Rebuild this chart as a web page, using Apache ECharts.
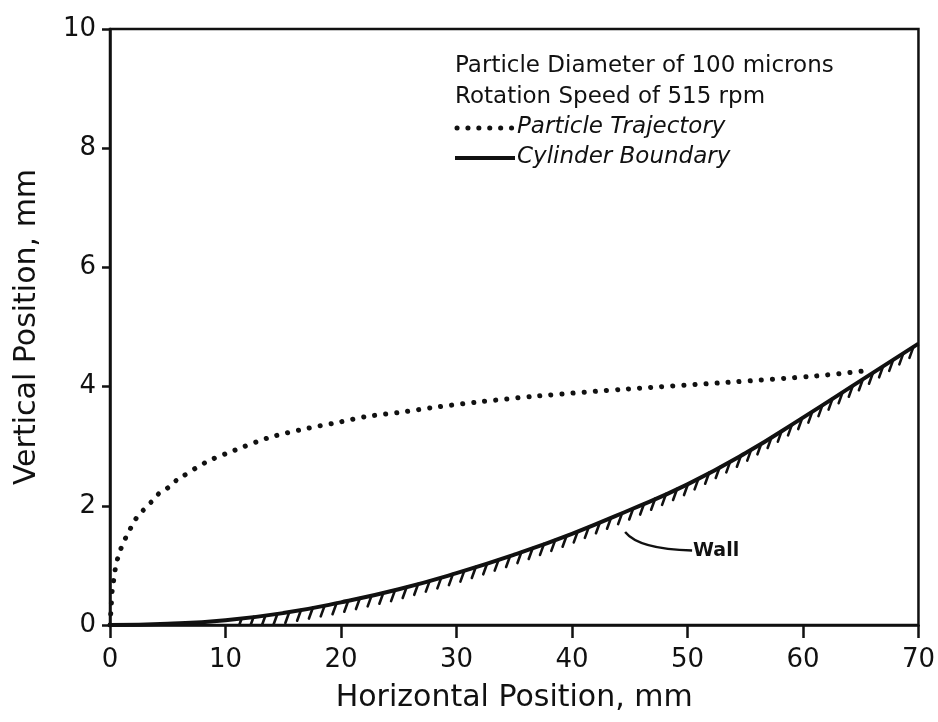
<!DOCTYPE html>
<html>
<head>
<meta charset="utf-8">
<script src="https://cdn.jsdelivr.net/npm/echarts@6/dist/echarts.min.js"></script>
<style>
  html, body { margin: 0; padding: 0; background: #fff; }
  #chart { width: 938px; height: 722px; }
</style>
</head>
<body>
<div id="chart"></div>
<script>
// axis ticks
const xTicks = [0, 10, 20, 30, 40, 50, 60, 70];
const yTicks = [0, 2, 4, 6, 8, 10];

// particle trajectory (mm, mm)
const trajX = [0, 0.1, 0.2, 0.4, 0.5, 0.7, 1.0, 1.4, 1.8, 2.3, 2.9, 3.6, 4.2, 5.0, 5.7, 6.0, 8.4, 10.9, 13.7, 16.6, 19.5, 22.3, 25.2, 28.0, 31.8, 36.9, 44.8, 53.4, 61.2, 65.2];
const trajY = [0, 0.3, 0.6, 0.85, 1.0, 1.14, 1.31, 1.48, 1.63, 1.8, 1.93, 2.07, 2.2, 2.3, 2.42, 2.46, 2.74, 2.94, 3.14, 3.28, 3.39, 3.5, 3.57, 3.65, 3.74, 3.84, 3.96, 4.07, 4.18, 4.26];

// cylinder boundary (wall)
const wallX = [0, 5, 10, 15, 20, 25, 30, 35, 40, 45, 50, 55, 60, 65, 70];
const wallY = [0, 0.02, 0.08, 0.2, 0.38, 0.6, 0.87, 1.18, 1.53, 1.93, 2.36, 2.88, 3.48, 4.1, 4.72];

// "Wall" leader: start, bend, end
const leaderX = [44.6, 45.8, 50.4];
const leaderY = [1.56, 1.27, 1.25];

const headerLines = ['Particle Diameter of 100 microns', 'Rotation Speed of 515 rpm'];
const seriesNames = ['Particle Trajectory', 'Cylinder Boundary'];

const FONT = 'DejaVu Sans';
const INK = '#111';

const traj = trajX.map((x, i) => [x, trajY[i]]);
const wall = wallX.map((x, i) => [x, wallY[i]]);

const chart = echarts.init(document.getElementById('chart'));

// hatch marks hanging under the wall line
function renderHatch(params, api) {
  if (params.dataIndex !== 0) return;
  const pts = wall.map(p => api.coord(p));
  const yAxisPx = api.coord([0, 0])[1];
  const startPx = api.coord([11, 0])[0];
  const step = 12;
  const children = [];
  let carry = 0;
  for (let i = 0; i < pts.length - 1; i++) {
    const a = pts[i], b = pts[i + 1];
    const len = Math.hypot(b[0] - a[0], b[1] - a[1]);
    let s = carry;
    while (s < len) {
      const t = s / len;
      const px = a[0] + (b[0] - a[0]) * t;
      const py = a[1] + (b[1] - a[1]) * t;
      if (px >= startPx) {
        let x2 = px - 4, y2 = py + 11;
        if (y2 > yAxisPx) {
          const k = (yAxisPx - py) / 11;
          x2 = px - 4 * k; y2 = yAxisPx;
        }
        children.push({
          type: 'line',
          shape: { x1: px, y1: py, x2: x2, y2: y2 },
          style: { stroke: INK, lineWidth: 2.6, lineCap: 'round' }
        });
      }
      s += step;
    }
    carry = s - len;
  }
  return { type: 'group', children: children };
}

function renderLeader(params, api) {
  if (params.dataIndex !== 0) return;
  const p = leaderX.map((x, i) => api.coord([x, leaderY[i]]));
  return {
    type: 'group',
    children: [
      {
        type: 'bezierCurve',
        shape: { x1: p[0][0], y1: p[0][1], cpx1: p[1][0], cpy1: p[1][1], x2: p[2][0], y2: p[2][1] },
        style: { stroke: INK, lineWidth: 2.4, fill: null }
      },
      {
        type: 'text',
        x: p[2][0] + 1, y: p[2][1] + 1,
        style: { text: 'Wall', font: 'bold 19px "' + FONT + '"', fill: INK, textVerticalAlign: 'middle' }
      }
    ]
  };
}

const legendLeft = 455;
const legendFont = '23px "' + FONT + '"';
const option = {
  backgroundColor: '#fff',
  animation: false,
  grid: {
    left: 110, right: 17, top: 29, bottom: 97,
    show: true, borderColor: INK, borderWidth: 2.5
  },
  xAxis: {
    type: 'value', min: 0, max: 70, interval: 10,
    name: 'Horizontal Position, mm', nameLocation: 'middle', nameGap: 58,
    nameTextStyle: { fontFamily: FONT, fontSize: 30, color: INK },
    axisLine: { lineStyle: { color: INK, width: 2.5 } },
    axisTick: { show: true, length: 13, inside: false, lineStyle: { color: INK, width: 2.5 } },
    axisLabel: { fontFamily: FONT, fontSize: 26, color: INK, margin: 22 },
    splitLine: { show: false }
  },
  yAxis: {
    type: 'value', min: 0, max: 10, interval: 2,
    name: 'Vertical Position, mm', nameLocation: 'middle', nameGap: 68,
    nameTextStyle: { fontFamily: FONT, fontSize: 30, color: INK },
    axisLine: { lineStyle: { color: INK, width: 2.5 } },
    axisTick: { show: true, length: 8, inside: false, lineStyle: { color: INK, width: 2.5 } },
    axisLabel: { fontFamily: FONT, fontSize: 26, color: INK, margin: 14 },
    splitLine: { show: false }
  },
  graphic: [
    { type: 'text', left: legendLeft, top: 55, style: { text: headerLines[0], font: legendFont, fill: INK } },
    { type: 'text', left: legendLeft, top: 86, style: { text: headerLines[1], font: legendFont, fill: INK } },
    {
      type: 'line', shape: { x1: legendLeft + 2, y1: 128, x2: legendLeft + 57, y2: 128 },
      style: { stroke: INK, lineWidth: 5, lineDash: [0.1, 10.8], lineCap: 'round' }
    },
    { type: 'text', left: legendLeft + 62, top: 116, style: { text: seriesNames[0], font: 'italic ' + legendFont, fill: INK } },
    {
      type: 'line', shape: { x1: legendLeft, y1: 158, x2: legendLeft + 60, y2: 158 },
      style: { stroke: INK, lineWidth: 4 }
    },
    { type: 'text', left: legendLeft + 62, top: 146, style: { text: seriesNames[1], font: 'italic ' + legendFont, fill: INK } }
  ],
  series: [
    {
      name: seriesNames[0], type: 'line', data: traj, smooth: 0.3,
      showSymbol: false,
      lineStyle: { color: INK, width: 5, type: [0.1, 11], cap: 'round' },
      z: 3
    },
    {
      name: seriesNames[1], type: 'line', data: wall, smooth: true,
      showSymbol: false,
      lineStyle: { color: INK, width: 4 },
      z: 4
    },
    {
      type: 'custom', data: wall, renderItem: renderHatch, silent: true, z: 3,
      clip: true
    },
    {
      type: 'custom', data: [[leaderX[0], leaderY[0]]], renderItem: renderLeader, silent: true, z: 3
    }
  ]
};

chart.setOption(option);
</script>
</body>
</html>
